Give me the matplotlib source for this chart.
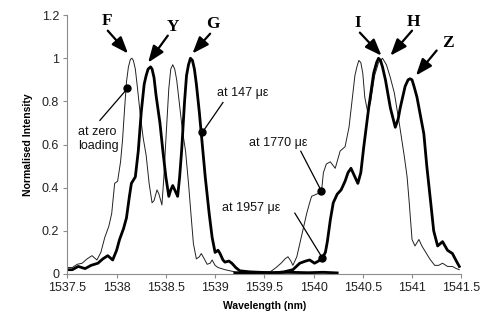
import matplotlib
matplotlib.use("Agg")
import matplotlib.pyplot as plt

# ---------------- data ----------------
zero_x = [1537.50, 1537.55, 1537.60, 1537.65, 1537.70, 1537.75, 1537.80, 1537.84, 1537.88,
          1537.92, 1537.95, 1537.98, 1538.01, 1538.04, 1538.06, 1538.08, 1538.10, 1538.12,
          1538.14, 1538.155, 1538.17, 1538.19, 1538.21, 1538.24, 1538.27, 1538.30, 1538.33,
          1538.36, 1538.38, 1538.41, 1538.43, 1538.46, 1538.48, 1538.50, 1538.53, 1538.55,
          1538.57, 1538.59, 1538.61, 1538.64, 1538.67, 1538.70, 1538.73, 1538.76, 1538.78,
          1538.81, 1538.84, 1538.86, 1538.89, 1538.92, 1538.95, 1538.97, 1539.00, 1539.03,
          1539.10, 1539.20, 1539.30, 1539.50, 1539.70, 1539.90, 1540.10, 1540.20]
zero_y = [0.03, 0.03, 0.045, 0.05, 0.07, 0.085, 0.065, 0.10, 0.17,
          0.22, 0.28, 0.42, 0.43, 0.52, 0.62, 0.76, 0.89, 0.96,
          0.995, 1.00, 0.99, 0.95, 0.87, 0.74, 0.63, 0.55, 0.42,
          0.33, 0.34, 0.39, 0.37, 0.32, 0.45, 0.62, 0.86, 0.95,
          0.97, 0.95, 0.90, 0.78, 0.66, 0.57, 0.42, 0.25, 0.14,
          0.07, 0.08, 0.095, 0.07, 0.045, 0.05, 0.065, 0.04, 0.03,
          0.02, 0.01, 0.006, 0.004, 0.006, 0.004, 0.005, 0.004]

s147_x = [1537.50, 1537.55, 1537.61, 1537.68, 1537.74, 1537.81, 1537.86, 1537.91, 1537.96,
          1538.00, 1538.03, 1538.07, 1538.10, 1538.13, 1538.15, 1538.19, 1538.22, 1538.25,
          1538.28, 1538.30, 1538.32, 1538.345, 1538.36, 1538.38, 1538.40, 1538.44, 1538.47,
          1538.50, 1538.53, 1538.55, 1538.57, 1538.60, 1538.62, 1538.64, 1538.66, 1538.69,
          1538.71, 1538.73, 1538.75, 1538.77, 1538.79, 1538.81, 1538.84, 1538.87, 1538.90,
          1538.94, 1538.97, 1539.00, 1539.03, 1539.05, 1539.08, 1539.10, 1539.14, 1539.17,
          1539.21, 1539.25, 1539.35, 1539.55, 1539.75, 1539.95, 1540.10, 1540.24]
s147_y = [0.02, 0.02, 0.035, 0.025, 0.04, 0.05, 0.07, 0.085, 0.065,
          0.11, 0.16, 0.21, 0.26, 0.36, 0.42, 0.45, 0.57, 0.75,
          0.88, 0.92, 0.95, 0.96, 0.95, 0.91, 0.83, 0.70, 0.57,
          0.45, 0.36, 0.39, 0.41, 0.38, 0.36, 0.45, 0.57, 0.80,
          0.92, 0.97, 1.00, 0.99, 0.95, 0.88, 0.75, 0.60, 0.45,
          0.28, 0.17, 0.10, 0.11, 0.095, 0.065, 0.055, 0.06, 0.05,
          0.03, 0.015, 0.01, 0.006, 0.008, 0.006, 0.008, 0.005]

s1770_x = [1539.30, 1539.45, 1539.56, 1539.62, 1539.67, 1539.71, 1539.74, 1539.77, 1539.79,
           1539.83, 1539.86, 1539.90, 1539.93, 1539.96, 1539.98, 1540.03, 1540.08, 1540.10,
           1540.13, 1540.17, 1540.22, 1540.27, 1540.32, 1540.36, 1540.39, 1540.42, 1540.44,
           1540.46, 1540.48, 1540.50, 1540.52, 1540.55, 1540.58, 1540.62, 1540.66, 1540.70,
           1540.74, 1540.78, 1540.82, 1540.87, 1540.92, 1540.95, 1540.97, 1541.00, 1541.03,
           1541.07, 1541.10, 1541.14, 1541.18, 1541.23, 1541.27, 1541.31, 1541.36, 1541.41,
           1541.45, 1541.48]
s1770_y = [0.0, 0.005, 0.01, 0.03, 0.05, 0.07, 0.08, 0.06, 0.04,
           0.08, 0.14, 0.22, 0.28, 0.33, 0.36, 0.37, 0.38, 0.47,
           0.51, 0.52, 0.49, 0.57, 0.59, 0.68, 0.80, 0.92, 0.96,
           0.99, 0.98, 0.93, 0.82, 0.75, 0.80, 0.92, 0.98, 1.00,
           0.97, 0.91, 0.84, 0.70, 0.55, 0.45, 0.34, 0.16, 0.13,
           0.16, 0.13, 0.10, 0.07, 0.04, 0.04, 0.05, 0.035, 0.035,
           0.025, 0.02]

s1957_x = [1539.20, 1539.40, 1539.60, 1539.70, 1539.79, 1539.86, 1539.92, 1539.96, 1540.01,
           1540.05, 1540.09, 1540.12, 1540.14, 1540.17, 1540.20, 1540.24, 1540.28, 1540.32,
           1540.35, 1540.38, 1540.41, 1540.45, 1540.48, 1540.51, 1540.56, 1540.61, 1540.64,
           1540.66, 1540.68, 1540.70, 1540.73, 1540.78, 1540.83, 1540.86, 1540.88, 1540.93,
           1540.96, 1540.98, 1541.00, 1541.02, 1541.05, 1541.12, 1541.15, 1541.19, 1541.22,
           1541.26, 1541.31, 1541.36, 1541.41, 1541.45, 1541.48]
s1957_y = [0.005, 0.006, 0.005, 0.01, 0.02, 0.05, 0.06, 0.065, 0.05,
           0.06, 0.075, 0.10, 0.15, 0.25, 0.33, 0.37, 0.39, 0.43,
           0.47, 0.49, 0.46, 0.42, 0.47, 0.59, 0.77, 0.93, 0.98,
           1.00, 0.99, 0.96, 0.90, 0.77, 0.68, 0.72, 0.77, 0.87,
           0.90, 0.905, 0.90, 0.87, 0.82, 0.65, 0.50, 0.33, 0.20,
           0.13, 0.15, 0.11, 0.095, 0.06, 0.035]

x_ticks = [1537.5, 1538, 1538.5, 1539, 1539.5, 1540, 1540.5, 1541, 1541.5]
x_tick_labels = ["1537.5", "1538", "1538.5", "1539", "1539.5", "1540", "1540.5", "1541", "1541.5"]
y_ticks = [0, 0.2, 0.4, 0.6, 0.8, 1.0, 1.2]
y_tick_labels = ["0", "0.2", "0.4", "0.6", "0.8", "1", "1.2"]

peak_labels = ["F", "Y", "G", "I", "H", "Z"]

# ---------------- figure ----------------
plt.rcParams['font.family'] = ['Liberation Sans', 'DejaVu Sans']
fig = plt.figure(figsize=(4.83, 3.20), dpi=100)
ax = fig.add_axes([0.1395, 0.14375, 0.8155, 0.809])

thin = 0.7
thick = 2.0
ax.plot(zero_x, zero_y, color='#222222', lw=thin)
ax.plot(s1770_x, s1770_y, color='#222222', lw=thin)
ax.plot(s147_x, s147_y, color='black', lw=thick, solid_joinstyle='round')
ax.plot(s1957_x, s1957_y, color='black', lw=thick, solid_joinstyle='round')

ax.set_xlim(1537.5, 1541.5)
ax.set_ylim(0, 1.2)
ax.set_xticks(x_ticks)
ax.set_xticklabels(x_tick_labels)
ax.set_yticks(y_ticks)
ax.set_yticklabels(y_tick_labels)
for s in ['top', 'right']:
    ax.spines[s].set_visible(False)
for s in ['left', 'bottom']:
    ax.spines[s].set_color('#8c8c8c')
    ax.spines[s].set_linewidth(0.8)
ax.tick_params(direction='out', length=3, width=0.8, color='#8c8c8c',
               labelsize=9, labelcolor='#222222', pad=3)

ax.set_xlabel("Wavelength (nm)", fontsize=7.5, fontweight='bold', labelpad=5)
ax.set_ylabel("Normalised Intensity", fontsize=7.5, fontweight='bold', labelpad=6)

# peak letter labels with arrows
letter_pos = [(1537.90, 1.174), (1538.57, 1.147), (1538.98, 1.16),
              (1540.45, 1.165), (1541.01, 1.17), (1541.36, 1.073)]
arrow_tail = [(1537.91, 1.128), (1538.52, 1.105), (1538.95, 1.114),
              (1540.47, 1.119), (1541.00, 1.128), (1541.25, 1.036)]
arrow_tip = [(1538.116, 1.022), (1538.32, 0.98), (1538.77, 1.022),
             (1540.69, 1.012), (1540.78, 1.012), (1541.04, 0.92)]
for lab, p, t, h in zip(peak_labels, letter_pos, arrow_tail, arrow_tip):
    ax.text(p[0], p[1], lab, fontsize=12.5, fontweight='bold',
            family='Liberation Serif', ha='center', va='center')
    ax.annotate("", xy=h, xytext=t,
                arrowprops=dict(arrowstyle='-|>,head_length=1.0,head_width=0.38',
                                lw=1.6, color='black', shrinkA=0, shrinkB=0))

# strain annotations
ann_text = ["at zero\nloading", "at 147 \u03bc\u03b5", "at 1770 \u03bc\u03b5", "at 1957 \u03bc\u03b5"]
ann_text_pos = [(1537.61, 0.625), (1539.02, 0.837), (1539.34, 0.606), (1539.07, 0.305)]
ann_line_start = [(1537.83, 0.712), (1539.08, 0.795), (1539.87, 0.569), (1539.81, 0.282)]
ann_dot = [(1538.11, 0.86), (1538.87, 0.656), (1540.08, 0.384), (1540.09, 0.074)]
for txt, tp, ls, d in zip(ann_text, ann_text_pos, ann_line_start, ann_dot):
    ax.text(tp[0], tp[1], txt, fontsize=9, ha='left', va='center',
            linespacing=1.15, color='#111111')
    ax.plot([ls[0], d[0]], [ls[1], d[1]], color='black', lw=0.9)
    ax.plot([d[0]], [d[1]], 'o', color='black', ms=5)

fig.savefig("out.png", dpi=100)
